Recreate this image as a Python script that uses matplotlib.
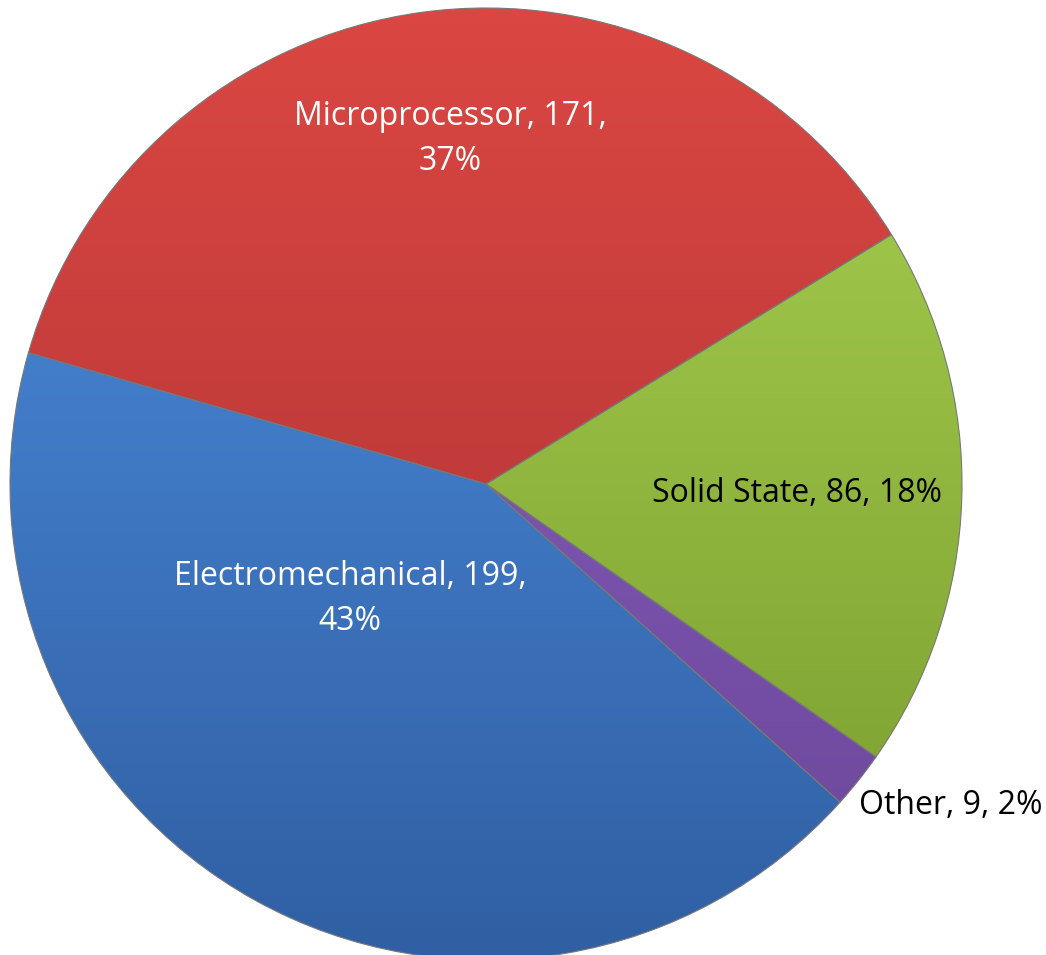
import numpy as np
import matplotlib
matplotlib.use("Agg")
import matplotlib.pyplot as plt
from matplotlib.patches import Wedge
from matplotlib.colors import LinearSegmentedColormap

# slices in drawing order (counter-clockwise from the start angle)
labels = ["Microprocessor", "Electromechanical", "Other", "Solid State"]
values = [171, 199, 9, 86]
top_colors = ["#DB4742", "#4E90E2", "#8C62C4", "#A9D252"]
bottom_colors = ["#A52F32", "#305FA3", "#6A4698", "#789A2C"]

start_angle = 31.6
cx, cy, r = 486, 955 - 484, 476

fig = plt.figure(figsize=(10.46, 9.55), dpi=100)
ax = fig.add_axes([0, 0, 1, 1])
ax.set_xlim(0, 1046)
ax.set_ylim(0, 955)
ax.set_aspect("equal")
ax.axis("off")

total = sum(values)
theta = start_angle
for lab, v, c1, c2 in zip(labels, values, top_colors, bottom_colors):
    span = v / total * 360
    w = Wedge((cx, cy), r, theta, theta + span, facecolor="none",
              edgecolor="#777777", linewidth=0.8, zorder=3)
    ax.add_patch(w)
    # vertical gradient clipped to the wedge
    cmap = LinearSegmentedColormap.from_list(lab, [c2, c1])
    grad = np.linspace(0, 1, 256).reshape(-1, 1)
    im = ax.imshow(grad, cmap=cmap, origin="lower", aspect="auto",
                   extent=[cx - r, cx + r, cy - r, cy + r], zorder=2)
    clip = Wedge((cx, cy), r, theta, theta + span, transform=ax.transData)
    im.set_clip_path(clip)
    theta += span

ax.set_xlim(0, 1046)
ax.set_ylim(0, 955)

fam = ["Open Sans", "DejaVu Sans"]
fs = 23
ax.text(450, 955 - 139, "Microprocessor, 171,\n37%", color="white", fontsize=fs,
        ha="center", va="center", family=fam, linespacing=1.5, zorder=5)
ax.text(350, 955 - 599, "Electromechanical, 199,\n43%", color="white", fontsize=fs,
        ha="center", va="center", family=fam, linespacing=1.5, zorder=5)
ax.text(797, 955 - 493, "Solid State, 86, 18%", color="black", fontsize=fs,
        ha="center", va="center", family=fam, zorder=5)
ax.text(951, 955 - 805, "Other, 9, 2%", color="black", fontsize=fs,
        ha="center", va="center", family=fam, zorder=5)

fig.savefig("out.png", dpi=100)
